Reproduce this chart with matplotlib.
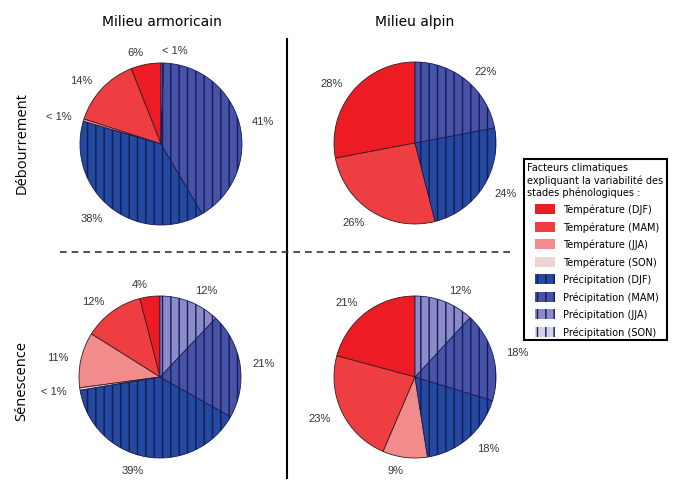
import matplotlib
matplotlib.use("Agg")
import matplotlib.pyplot as plt
from matplotlib.lines import Line2D
from matplotlib.patches import Patch, Rectangle
from matplotlib.legend_handler import HandlerPatch

# Data (percent of explained variability, 0 = factor absent)
categories = [
    "Température (DJF)", "Température (MAM)", "Température (JJA)", "Température (SON)",
    "Précipitation (DJF)", "Précipitation (MAM)", "Précipitation (JJA)", "Précipitation (SON)",
]
armoricain_debourrement = [6, 14, 0.5, 0, 38, 41, 0.5, 0]
alpin_debourrement = [28, 26, 0, 0, 24, 22, 0, 0]
armoricain_senescence = [4, 12, 11, 0.5, 39, 21, 12, 0]
alpin_senescence = [21, 23, 9, 0, 18, 18, 12, 0]

col_titles = ["Milieu armoricain", "Milieu alpin"]
row_titles = ["Débourrement", "Sénescence"]

colors = ["#ed1c24", "#ef3e42", "#f28b8c", "#ecd4d5",
          "#2349a0", "#4753a6", "#8a8bc8", "#d0d3ec"]
hatched = [False] * 4 + [True] * 4

W, H = 676, 481
fig = plt.figure(figsize=(W / 100, H / 100), dpi=100)
R = 81  # pie radius in pixels


def pie_at(cx, cy, values):
    ax = fig.add_axes([(cx - 1.25 * R) / W, 1 - (cy + 1.25 * R) / H,
                       2.5 * R / W, 2.5 * R / H])
    idx = [i for i, v in enumerate(values) if v > 0]
    vals = [values[i] for i in idx]
    labels = ["< 1%" if values[i] < 1 else f"{values[i]:g}%" for i in idx]
    wedges, texts = ax.pie(vals, labels=labels, colors=[colors[i] for i in idx],
                           startangle=90, counterclock=True, labeldistance=1.16,
                           textprops=dict(fontsize=8, color="#333333",
                                          family="Liberation Sans"))
    for w, i in zip(wedges, idx):
        w.set_linewidth(0.6)
        if hatched[i]:
            w.set_hatch("||")
            w.set_edgecolor("#161a55")
        else:
            w.set_edgecolor("#3a1a1a")
    return ax


pie_at(161, 145, armoricain_debourrement)
pie_at(415, 144, alpin_debourrement)
pie_at(160, 378, armoricain_senescence)
pie_at(415, 378, alpin_senescence)

# column / row titles
for x, t in zip([162, 415], col_titles):
    fig.text(x / W, 1 - 22 / H, t, ha="center", va="center", fontsize=10,
             family="DejaVu Sans")
for y, t in zip([143, 381], row_titles):
    fig.text(22 / W, 1 - y / H, t, ha="center", va="center", rotation=90,
             fontsize=10.5, family="Open Sans")

# separators
fig.add_artist(Line2D([287 / W, 287 / W], [1 - 40 / H, 1 - 479 / H],
                      transform=fig.transFigure, color="black", lw=1.5))
fig.add_artist(Line2D([60 / W, 515 / W], [1 - 253 / H, 1 - 253 / H],
                      transform=fig.transFigure, color="#333333", lw=1.2,
                      linestyle=(0, (4, 3))))


# legend
def indented_patch(legend, orig_handle, xdescent, ydescent, width, height, fontsize):
    return Rectangle((width * 0.28 - xdescent, -ydescent), width * 0.72, height)


handles = []
for c, h in zip(colors, hatched):
    if h:
        handles.append(Patch(facecolor=c, edgecolor="#161a55", hatch="||", linewidth=0))
    else:
        handles.append(Patch(facecolor=c, edgecolor=c, linewidth=0))

leg = fig.legend(handles, categories, loc="upper left",
                 bbox_to_anchor=(524 / W, 1 - 160 / H), borderaxespad=0,
                 title="Facteurs climatiques\nexpliquant la variabilité des\nstades phénologiques :",
                 alignment="left", title_fontsize=7,
                 frameon=True, fancybox=False, edgecolor="black", framealpha=1,
                 handlelength=2.8, handleheight=1.2, labelspacing=0.72,
                 handletextpad=0.9, borderpad=0.35,
                 handler_map={Patch: HandlerPatch(patch_func=indented_patch)},
                 prop=dict(family="DejaVu Sans", size=7))
leg.get_frame().set_linewidth(1.5)
leg.get_title().set_family("DejaVu Sans")

fig.savefig("out.png", dpi=100)
